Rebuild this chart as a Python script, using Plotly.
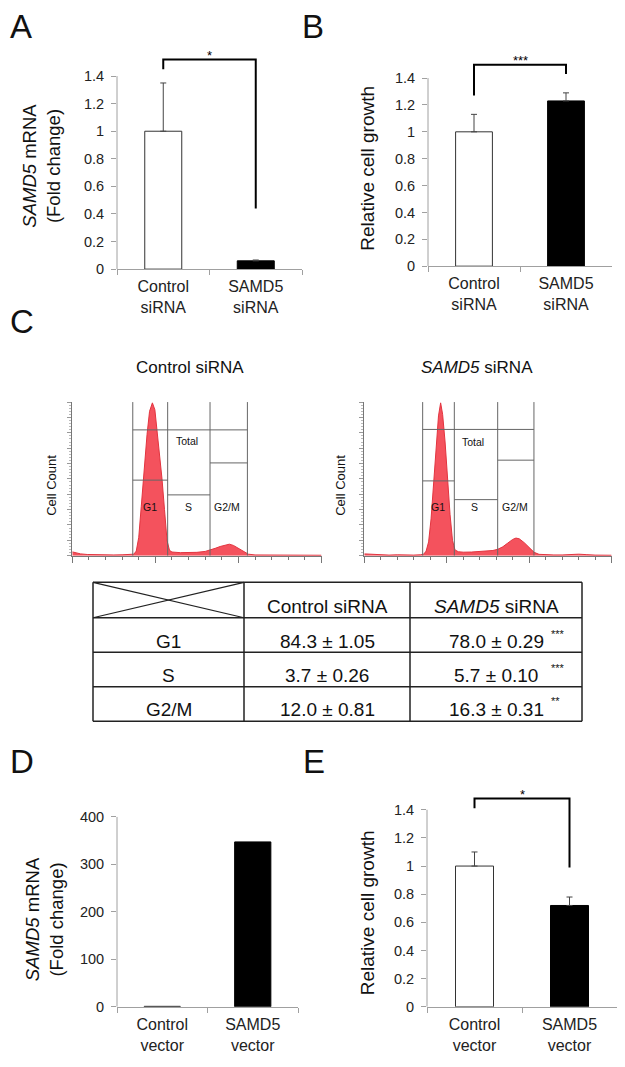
import plotly.graph_objects as go

# the page body adds an 8px margin, so the figure is drawn 8px in from the corner
OFF = 8
W, H = 617, 1059

# ---- data ----
cats_si = ["Control<br>siRNA", "SAMD5<br>siRNA"]
cats_vec = ["Control<br>vector", "SAMD5<br>vector"]

a_vals = [1.0, 0.06]
a_err = [0.35, 0.006]
b_vals = [1.0, 1.23]
b_err = [0.13, 0.06]
d_vals = [1.0, 347]
e_vals = [1.0, 0.72]
e_err = [0.10, 0.06]

ticks_14 = [0, 0.2, 0.4, 0.6, 0.8, 1.0, 1.2, 1.4]
ticks_14_txt = ["0", "0.2", "0.4", "0.6", "0.8", "1", "1.2", "1.4"]
ticks_400 = [0, 100, 200, 300, 400]

# flow histograms (channel units 0-15, % of max)
ctrl_x = [0, 0.2, 0.5, 0.9, 1.5, 2.0, 2.5, 3.0, 3.4, 3.7, 3.85, 4.0, 4.15, 4.3, 4.5, 4.65,
          4.82, 4.97, 5.1, 5.25, 5.4, 5.55, 5.7, 5.85, 6.0, 6.5, 7.0, 7.5, 8.0, 8.3, 8.6,
          8.9, 9.2, 9.45, 9.7, 10.0, 10.3, 10.6, 11.0, 12.0, 13.0, 14.0, 15.0]
ctrl_y = [2.5, 2.0, 1.2, 0.8, 0.6, 0.5, 0.5, 0.6, 0.6, 1.0, 3, 12, 32, 54, 79, 94,
          99.5, 95, 82, 66, 50, 30, 10, 3.5, 2.4, 2.0, 1.9, 2.2, 2.8, 3.6, 4.8,
          6.0, 7.0, 7.5, 6.7, 4.8, 2.7, 1.0, 0.5, 0.4, 0.3, 0.3, 0.3]
samd_x = [0, 0.3, 0.6, 1.0, 1.5, 2.0, 2.5, 3.0, 3.4, 3.6, 3.75, 3.9, 4.05, 4.2, 4.35, 4.5,
          4.63, 4.75, 4.9, 5.05, 5.2, 5.35, 5.5, 5.7, 6.0, 6.5, 7.0, 7.5, 7.8, 8.1, 8.4,
          8.7, 9.0, 9.2, 9.4, 9.7, 10.0, 10.3, 10.6, 11.0, 11.5, 12.0, 12.5, 13.0, 13.5, 14.0, 15.0]
samd_y = [1.2, 1.0, 0.6, 0.5, 0.4, 0.6, 0.4, 0.4, 0.6, 1.0, 3, 9, 24, 46, 70, 91,
          99.5, 92, 74, 50, 27, 10, 3.8, 2.6, 2.3, 2.4, 2.6, 3.0, 3.4, 4.2, 5.8,
          8.2, 10.6, 11.5, 11.0, 8.5, 5.0, 2.2, 0.9, 0.6, 0.5, 0.5, 0.8, 1.0, 0.7, 0.4, 0.3]

# gates: [G1 start, S start, G2/M start, end], heights: total, G1, S, G2/M
ctrl_gates = [3.64, 5.74, 8.29, 10.54]
ctrl_gate_h = [81.9, 49.2, 39.6, 60.4]
samd_gates = [3.54, 5.46, 8.09, 10.29]
samd_gate_h = [82.2, 48.7, 36.5, 62.2]

phases = ["G1", "S", "G2/M"]
ctrl_mean = [84.3, 3.7, 12.0]
ctrl_sd = [1.05, 0.26, 0.81]
samd_mean = [78.0, 5.7, 16.3]
samd_sd = [0.29, 0.10, 0.31]
samd_sig = ["***", "***", "**"]

FONT = "Liberation Sans, Arial, sans-serif"
AX = "#a0a0a0"


def PX(x):
    return (x - OFF) / W


def PY(y):
    return 1 - (y - OFF) / H


def xdom(a, b):
    return [PX(a), PX(b)]


def ydom(top, bottom):
    return [PY(bottom), PY(top)]


fig = go.Figure()


def add_bars(cats, vals, err, xa, ya):
    ey = None
    if err is not None:
        ey = dict(type="data", symmetric=False, array=err, arrayminus=[0, 0],
                  color="#444", thickness=1, width=3)
    fig.add_trace(go.Bar(x=cats, y=vals, error_y=ey, width=0.4,
                         marker=dict(color=["white", "black"],
                                     line=dict(color=["#333", "#000"], width=1)),
                         xaxis=xa, yaxis=ya, showlegend=False))


add_bars(cats_si, a_vals, a_err, "x", "y")
add_bars(cats_si, b_vals, b_err, "x2", "y2")
add_bars(cats_vec, d_vals, None, "x5", "y5")
add_bars(cats_vec, e_vals, e_err, "x6", "y6")

for hx, hy, xa, ya in [(ctrl_x, ctrl_y, "x3", "y3"), (samd_x, samd_y, "x4", "y4")]:
    fig.add_trace(go.Scatter(x=hx, y=hy, mode="lines", fill="tozeroy",
                             fillcolor="#f4525d", line=dict(color="#e2343f", width=1),
                             xaxis=xa, yaxis=ya, showlegend=False))


def bar_x(dom, anchor):
    return dict(domain=dom, anchor=anchor, range=[-0.5, 1.5], showline=True,
                linecolor=AX, linewidth=1, ticks="outside", tickson="boundaries",
                ticklen=5, tickcolor=AX, ticklabelstandoff=3,
                tickfont=dict(size=16, color="#222"), showgrid=False, zeroline=False)


def bar_y(dom, anchor, rng, tv, tt):
    return dict(domain=dom, anchor=anchor, range=rng, tickvals=tv, ticktext=tt,
                ticks="outside", ticklen=5, tickcolor=AX, showline=False,
                ticklabelstandoff=4,
                tickfont=dict(size=14.5, color="#222"), showgrid=False, zeroline=False)


def hist_x(dom, anchor):
    return dict(domain=dom, anchor=anchor, range=[0, 15], showline=True,
                linecolor="#777", linewidth=1, ticks="outside", tick0=0, dtick=5,
                ticklen=6, tickcolor="#777", showticklabels=False, showgrid=False,
                zeroline=False,
                minor=dict(dtick=1, ticks="outside", ticklen=3, tickcolor="#777"))


def hist_y(dom, anchor):
    return dict(domain=dom, anchor=anchor, range=[0, 100], showline=True,
                linecolor="#777", linewidth=1, ticks="outside", tick0=0, dtick=10,
                ticklen=4, tickcolor="#999", showticklabels=False, showgrid=False,
                zeroline=False,
                minor=dict(dtick=2, ticks="outside", ticklen=2, tickcolor="#bbb"))


# panel A: 0 at 265px, 1.4 at 69px -> 140 px/unit
fig.update_layout(
    xaxis=bar_x(xdom(117, 302), "y"),
    yaxis=bar_y(ydom(265 - 140 * 1.7, 265), "x", [0, 1.7], ticks_14, ticks_14_txt),
    xaxis2=bar_x(xdom(428, 612), "y2"),
    yaxis2=bar_y(ydom(262 - 136.4 * 1.7, 262), "x2", [0, 1.7], ticks_14, ticks_14_txt),
    xaxis3=hist_x(xdom(72.3, 321.5), "y3"),
    yaxis3=hist_y(ydom(400, 556), "x3"),
    xaxis4=hist_x(xdom(364.3, 611.6), "y4"),
    yaxis4=hist_y(ydom(400, 556), "x4"),
    xaxis5=bar_x(xdom(117, 298), "y5"),
    yaxis5=bar_y(ydom(821, 1014), "x5", [0, 400], ticks_400, [str(t) for t in ticks_400]),
    xaxis6=bar_x(xdom(427, 617), "y6"),
    yaxis6=bar_y(ydom(1014 - 142.9 * 1.7, 1014), "x6", [0, 1.7], ticks_14, ticks_14_txt),
)

shapes = []
ann = []

# y axis lines drawn only up to the top tick
for ya, xa, top in [("y", "x", 1.4), ("y2", "x2", 1.4), ("y5", "x5", 400), ("y6", "x6", 1.4)]:
    shapes.append(dict(type="line", xref=xa + " domain", yref=ya, x0=0, x1=0, y0=0, y1=top,
                       line=dict(color=AX, width=1)))

# significance brackets: (xaxis, yaxis, left end, top, right end, stars)
brackets = [("x", "y", 1.45, 1.52, 0.44, "*"),
            ("x2", "y2", 1.27, 1.50, 1.43, "***"),
            ("x6", "y6", 1.41, 1.48, 0.99, "*")]
for xa, ya, yl, yt, yr, st in brackets:
    shapes.append(dict(type="path", xref=xa, yref=ya,
                       path=f"M 0,{yl} L 0,{yt} L 1,{yt} L 1,{yr}",
                       line=dict(color="#000", width=2)))
    ann.append(dict(x=0.5, y=yt, xref=xa, yref=ya, text=st, showarrow=False,
                    xanchor="center", yanchor="bottom", yshift=-5,
                    font=dict(size=13, color="#000", family=FONT)))

# flow gates
for gates, gh, xa, ya in [(ctrl_gates, ctrl_gate_h, "x3", "y3"), (samd_gates, samd_gate_h, "x4", "y4")]:
    for g in gates:
        shapes.append(dict(type="line", xref=xa, yref=ya, x0=g, x1=g, y0=0, y1=100,
                           line=dict(color="#666", width=1)))
    shapes.append(dict(type="line", xref=xa, yref=ya, x0=gates[0], x1=gates[3], y0=gh[0], y1=gh[0],
                       line=dict(color="#666", width=1)))
    for i in range(3):
        shapes.append(dict(type="line", xref=xa, yref=ya, x0=gates[i], x1=gates[i + 1],
                           y0=gh[i + 1], y1=gh[i + 1], line=dict(color="#666", width=1)))

gate_labels = [("x3", "y3", [(6.89, 74.4, "Total"), (4.68, 31.6, "G1"), (6.97, 31.6, "S"), (9.30, 31.6, "G2/M")]),
               ("x4", "y4", [(6.61, 73.9, "Total"), (4.45, 31.4, "G1"), (6.71, 31.4, "S"), (9.15, 31.4, "G2/M")])]
for xa, ya, labs in gate_labels:
    for lx, ly, lt in labs:
        ann.append(dict(x=lx, y=ly, xref=xa, yref=ya, text=lt, showarrow=False,
                        xanchor="center", yanchor="middle",
                        font=dict(size=10.5, color="#111", family=FONT)))


def pa(x, y, text, size, angle=0, **kw):
    d = dict(x=PX(x), y=PY(y), xref="paper", yref="paper", text=text, showarrow=False,
             textangle=angle, xanchor="center", yanchor="middle",
             font=dict(size=size, color="#111", family=FONT))
    d.update(kw)
    ann.append(d)


# panel letters (left edge given)
for lx, ly, lt in [(8, 19, "A"), (300, 19, "B"), (8, 318, "C"), (8, 765, "D"), (301, 765, "E")]:
    pa(lx, ly, lt, 33, xanchor="left")

# axis titles
pa(42, 160, "<i>SAMD5</i> mRNA<br>(Fold change)", 18.5, -90)
pa(368, 162, "Relative cell growth", 19, -90)
pa(44, 925, "<i>SAMD5</i> mRNA<br>(Fold change)", 18.5, -90)
pa(367, 919, "Relative cell growth", 19, -90)
pa(52, 485, "Cell Count", 13, -90)
pa(341, 485, "Cell Count", 13, -90)
pa(190, 365, "Control siRNA", 17)
pa(477, 365, "<i>SAMD5</i> siRNA", 17)

# table
cols = [93, 244, 410, 582]
rows = [583, 619, 654, 689, 724]
for r in rows:
    shapes.append(dict(type="line", xref="paper", yref="paper", x0=PX(cols[0]), x1=PX(cols[-1]),
                       y0=PY(r), y1=PY(r), line=dict(color="#222", width=1.5)))
for c in cols:
    shapes.append(dict(type="line", xref="paper", yref="paper", x0=PX(c), x1=PX(c),
                       y0=PY(rows[0]), y1=PY(rows[-1]), line=dict(color="#222", width=1.5)))
shapes.append(dict(type="line", xref="paper", yref="paper", x0=PX(cols[0]), x1=PX(cols[1]),
                   y0=PY(rows[0]), y1=PY(rows[1]), line=dict(color="#222", width=1.2)))
shapes.append(dict(type="line", xref="paper", yref="paper", x0=PX(cols[0]), x1=PX(cols[1]),
                   y0=PY(rows[1]), y1=PY(rows[0]), line=dict(color="#222", width=1.2)))

pa(327, 608, "Control siRNA", 19)
pa(496, 608, "<i>SAMD5</i> siRNA", 19)
row_y = [643, 678, 712]
for i in range(3):
    pa(168.5, row_y[i], phases[i], 19)
    pa(327, row_y[i], f"{ctrl_mean[i]:.1f} ± {ctrl_sd[i]:.2f}", 19)
    pa(496, row_y[i], f"{samd_mean[i]:.1f} ± {samd_sd[i]:.2f}", 19)
    pa(549, row_y[i] - 8, samd_sig[i], 11, xanchor="left")

fig.update_layout(width=W, height=H, margin=dict(l=0, r=0, t=0, b=0),
                  paper_bgcolor="white", plot_bgcolor="white",
                  font=dict(family=FONT, color="#222"),
                  shapes=shapes, annotations=ann, bargap=0.6)

fig.write_html("out.html")
